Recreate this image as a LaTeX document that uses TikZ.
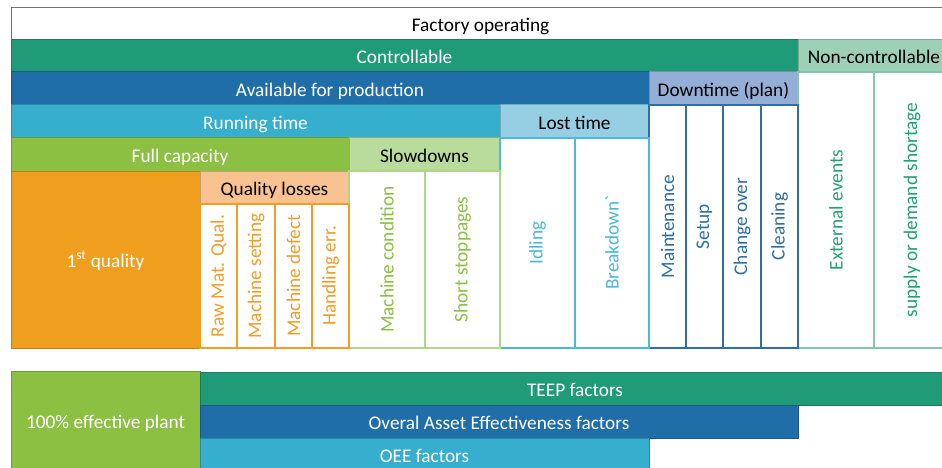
\documentclass[tikz,border=0pt]{standalone}
\usepackage{fontspec}
\setmainfont{Carlito}
\definecolor{ctl}{HTML}{1F9B77}
\definecolor{nctl}{HTML}{9DD0B6}
\definecolor{avl}{HTML}{1F6EA8}
\definecolor{dwn}{HTML}{95AED6}
\definecolor{run}{HTML}{36AECD}
\definecolor{lst}{HTML}{96CFE3}
\definecolor{ful}{HTML}{8CC043}
\definecolor{slw}{HTML}{B9DB9C}
\definecolor{fst}{HTML}{F09E1E}
\definecolor{qls}{HTML}{F8C391}
\definecolor{qtx}{HTML}{F29D26}
\definecolor{stx}{HTML}{8CC043}
\definecolor{ltx}{HTML}{4DB8D8}
\definecolor{dtx}{HTML}{2F6FA6}
\definecolor{ntx}{HTML}{23A077}
\newcommand{\vt}[1]{\rotatebox{90}{#1}}
\tikzset{br/.style={rectangle, anchor=north west, inner sep=0pt, outer sep=0pt,
            text height=16pt, text depth=0.6pt,
            minimum height=33pt, fill=#1, draw=#1!80!black, line width=1pt, text=white},
         lt/.style={br=#1, text=black},
         cl/.style={rectangle, anchor=north west, inner sep=0pt, outer sep=0pt,
            minimum width=37pt, fill=white, draw=#1, line width=1.2pt, text=#1}}

\begin{document}
\begin{tikzpicture}[x=1pt, y=-1pt, font=\fontsize{19.3}{23}\selectfont]
\useasboundingbox (0,0) rectangle (942,468);
\clip (0,0) rectangle (942,468);
\node[br=white, draw=black!55, text=black, minimum width=939pt, minimum height=32pt] (fo) at (11,8) {Factory operating};
\node[br=ctl, minimum width=787pt, minimum height=32pt] (ctl) at (11,40) {Controllable};
\node[lt=nctl, minimum width=152pt, minimum height=32pt] (nctl) at (798,40) {Non-controllable};

\node[br=avl, minimum width=638pt] (avl) at (11,72) {Available for production};
\node[lt=dwn, minimum width=149pt] (dwn) at (649,72) {Downtime (plan)};
\node[cl=ntx, draw=nctl!80!ntx, minimum width=76pt, minimum height=276pt] (ext) at (798,72) {\vt{External events}};
\node[cl=ntx, draw=nctl!80!ntx, minimum width=76pt, minimum height=276pt] (sup) at (874,72) {\vt{supply or demand shortage}};

\node[br=run, minimum width=489pt] (run) at (11,105) {Running time};
\node[lt=lst, minimum width=149pt] (lst) at (500,105) {Lost time};
\node[cl=dtx, minimum height=243pt] (mnt) at (649,105) {\vt{Maintenance}};
\node[cl=dtx, minimum height=243pt] (stp) at (686,105) {\vt{Setup}};
\node[cl=dtx, minimum width=38pt, minimum height=243pt] (chg) at (723,105) {\vt{Change over}};
\node[cl=dtx, minimum height=243pt] (cln) at (761,105) {\vt{Cleaning}};

\node[br=ful, minimum width=338pt] (ful) at (11,138) {Full capacity};
\node[lt=slw, minimum width=151pt] (slw) at (349,138) {Slowdowns};
\node[cl=ltx, minimum width=75pt, minimum height=210pt] (idl) at (500,138) {\vt{Idling}};
\node[cl=ltx, minimum width=74pt, minimum height=210pt] (brk) at (575,138) {\vt{Breakdown\textasciigrave}};

\node[br=fst, minimum width=189pt, minimum height=177pt] (fst) at (11,171) {1\textsuperscript{st} quality};
\node[lt=qls, minimum width=149pt] (qls) at (200,171) {Quality losses};
\node[cl=stx, draw=slw!80!stx, minimum width=76pt, minimum height=177pt] (mcn) at (349,171) {\vt{Machine condition}};
\node[cl=stx, draw=slw!80!stx, minimum width=75pt, minimum height=177pt] (sst) at (425,171) {\vt{Short stoppages}};

\node[cl=qtx, minimum height=144pt] (raw) at (200,204) {\vt{Raw Mat. Qual.}};
\node[cl=qtx, minimum width=38pt, minimum height=144pt] (mst) at (237,204) {\vt{Machine setting}};
\node[cl=qtx, minimum height=144pt] (mdf) at (275,204) {\vt{Machine defect}};
\node[cl=qtx, minimum height=144pt] (hnd) at (312,204) {\vt{Handling err.}};

\node[br=ful, minimum width=189pt, minimum height=100pt] (plt) at (11,371) {100\% effective plant};
\node[br=ctl, minimum width=750pt] (tep) at (200,372) {TEEP factors};
\node[br=avl, minimum width=598pt] (oae) at (200,405) {Overal Asset Effectiveness factors};
\node[br=run, minimum width=449pt] (oee) at (200,438) {OEE factors};
\end{tikzpicture}
\end{document}
